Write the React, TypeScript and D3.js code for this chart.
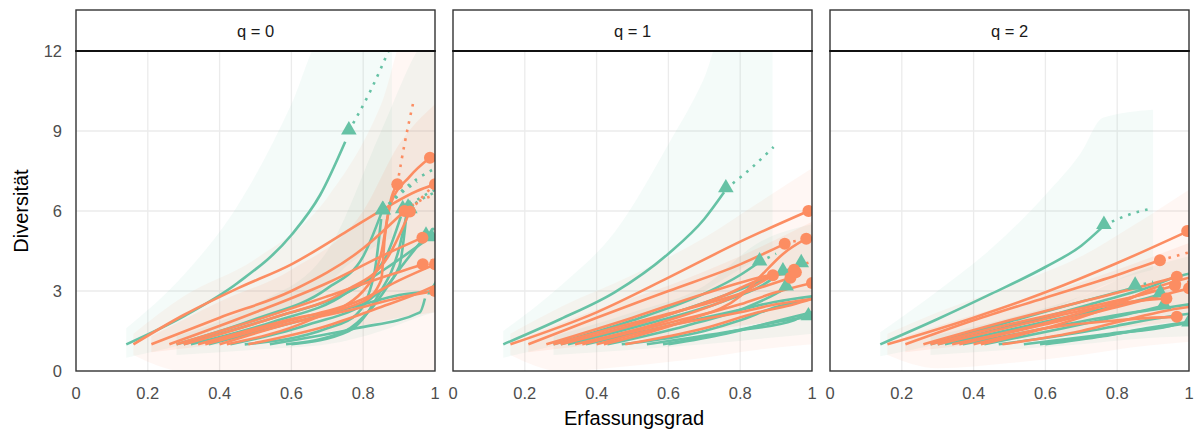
import React from "react";
import * as d3 from "d3";

type P = [number, number];
type B = [number, number, number];

const facetLabels = ["q = 0", "q = 1", "q = 2"];
const xTickValues = [0, 0.2, 0.4, 0.6, 0.8, 1];
const xTickLabels = ["0", "0.2", "0.4", "0.6", "0.8", "1"];
const yTickValues = [0, 3, 6, 9, 12];
const yTickLabels = ["0", "3", "6", "9", "12"];
const xTitle = "Erfassungsgrad";
const yTitle = "Diversität";

// G = green (triangles), O = orange (circles)
const curveGroups = ["G", "G", "G", "G", "G", "G", "G", "G", "G", "G", "O", "O", "O", "O", "O", "O", "O", "O", "O", "O"];

const rareQ0: P[][] = [
  [[0.14, 1], [0.3, 2.05], [0.45, 3.3], [0.6, 5.1], [0.68, 6.6], [0.75, 8.6]],
  [[0.28, 1], [0.5, 1.95], [0.7, 3.1], [0.8, 4.3], [0.85, 5.9]],
  [[0.32, 1], [0.55, 1.85], [0.75, 2.9], [0.86, 4.2], [0.905, 5.8]],
  [[0.43, 1], [0.65, 1.75], [0.82, 2.7], [0.9, 3.9], [0.92, 5.8]],
  [[0.54, 1], [0.78, 1.6], [0.958, 2.2], [0.972, 2.72]],
  [[0.585, 1], [0.75, 1.5], [0.82, 2.3], [0.9, 3.8], [0.97, 5.0]],
  [[0.3, 1], [0.55, 2.0], [0.75, 2.9], [0.88, 4.0], [0.985, 5.0]],
  [[0.37, 1], [0.6, 1.8], [0.8, 2.5], [0.9, 2.85], [1.0, 3.0]],
  [[0.47, 1], [0.7, 1.6], [0.78, 2.1], [0.83, 3.6], [0.85, 5.7]],
  [[0.6, 1], [0.76, 1.5], [0.84, 2.8], [0.9, 4.6], [0.92, 5.8]],
  [[0.16, 1], [0.3, 2.1], [0.45, 3.1], [0.6, 4.0], [0.75, 5.2], [0.86, 6.1], [0.95, 6.75], [1.0, 7.0]],
  [[0.21, 1], [0.4, 2.0], [0.6, 3.0], [0.8, 4.6], [0.915, 6.0]],
  [[0.26, 1], [0.5, 2.2], [0.7, 3.3], [0.85, 4.3], [0.965, 5.0]],
  [[0.28, 1], [0.5, 1.9], [0.7, 2.8], [0.85, 3.5], [0.966, 4.0]],
  [[0.3, 1], [0.55, 2.0], [0.75, 3.0], [0.87, 4.3], [0.93, 5.98]],
  [[0.34, 1], [0.6, 1.95], [0.8, 2.6], [0.85, 3.4], [0.86, 5.0], [0.875, 6.3], [0.895, 7.0]],
  [[0.36, 1], [0.6, 1.9], [0.8, 2.7], [0.9, 3.4], [1.0, 4.0]],
  [[0.4, 1], [0.6, 1.8], [0.8, 2.4], [0.9, 2.75], [1.0, 3.0]],
  [[0.42, 1], [0.65, 1.9], [0.8, 3.0], [0.85, 4.4], [0.875, 6.2], [0.93, 7.3], [0.986, 8.0]],
  [[0.48, 1], [0.7, 1.7], [0.85, 2.4], [0.95, 2.9], [1.0, 3.2]],
];
const obsQ0: (P | null)[] = [
  [0.76, 9.0], [0.854, 6.02], [0.91, 6.05], [0.925, 6.1], null, [0.975, 5.05], [0.99, 5.0], [1.0, 3.0], [0.856, 6.0], [0.93, 6.05],
  [1.0, 7.0], [0.915, 6.0], [0.965, 5.0], [0.966, 4.0], [0.93, 5.98], [0.895, 7.0], [1.0, 4.0], [1.0, 3.0], [0.986, 8.0], null,
];
const extraQ0: P[][] = [
  [[0.76, 9.0], [0.82, 10.5], [0.88, 12.3]],
  [[0.854, 6.02], [0.92, 6.9], [1.0, 7.6]],
  [[0.91, 6.05], [0.96, 6.5], [1.0, 6.8]],
  [[0.925, 6.1], [0.97, 6.5], [1.0, 6.7]],
  [],
  [[0.975, 5.05], [1.0, 5.4]],
  [],
  [],
  [[0.856, 6.0], [0.9, 6.6], [0.95, 7.1]],
  [],
  [],
  [[0.915, 6.0], [0.96, 6.4], [1.0, 6.6]],
  [[0.965, 5.0], [1.0, 5.3]],
  [[0.966, 4.0], [1.0, 4.2]],
  [[0.93, 5.98], [0.97, 6.6], [1.0, 7.0]],
  [[0.895, 7.0], [0.915, 8.5], [0.94, 10.1]],
  [],
  [],
  [],
  [],
];

const rareQ1: P[][] = [
  [[0.14, 1], [0.3, 1.95], [0.45, 2.95], [0.6, 4.4], [0.7, 5.7], [0.755, 6.7]],
  [[0.28, 1], [0.5, 1.9], [0.7, 2.9], [0.8, 3.6], [0.85, 4.05]],
  [[0.32, 1], [0.55, 1.8], [0.75, 2.6], [0.86, 3.2], [0.915, 3.7]],
  [[0.43, 1], [0.65, 1.7], [0.82, 2.4], [0.9, 2.9], [0.925, 3.1]],
  [[0.54, 1], [0.78, 1.5], [0.95, 1.9], [0.975, 2.1]],
  [[0.585, 1], [0.75, 1.4], [0.85, 1.7], [0.95, 1.95], [0.99, 2.03]],
  [[0.3, 1], [0.55, 1.9], [0.75, 2.8], [0.88, 3.5], [0.97, 4.0]],
  [[0.37, 1], [0.6, 1.7], [0.8, 2.3], [0.9, 2.6], [1.0, 2.8]],
  [[0.47, 1], [0.7, 1.5], [0.8, 1.9], [0.9, 2.4], [1.0, 2.7]],
  [[0.6, 1], [0.76, 1.4], [0.88, 1.8], [1.0, 2.2]],
  [[0.16, 1], [0.4, 2.2], [0.6, 3.5], [0.8, 4.85], [0.99, 6.0]],
  [[0.21, 1], [0.4, 2.0], [0.6, 3.0], [0.8, 4.0], [0.924, 4.77]],
  [[0.26, 1], [0.5, 2.0], [0.7, 2.9], [0.85, 3.5], [0.95, 3.8]],
  [[0.28, 1], [0.5, 1.8], [0.7, 2.5], [0.85, 3.1], [0.94, 3.5]],
  [[0.3, 1], [0.55, 1.9], [0.75, 2.8], [0.87, 3.5], [0.955, 3.7]],
  [[0.34, 1], [0.6, 1.9], [0.8, 2.9], [0.891, 3.59]],
  [[0.36, 1], [0.6, 1.8], [0.8, 2.5], [0.9, 2.95], [1.0, 3.3]],
  [[0.4, 1], [0.6, 1.7], [0.8, 2.2], [0.9, 2.5], [1.0, 2.7]],
  [[0.42, 1], [0.65, 1.9], [0.8, 2.8], [0.86, 3.6], [0.92, 4.4], [0.984, 4.96]],
  [[0.48, 1], [0.7, 1.6], [0.85, 2.2], [0.95, 2.5], [1.0, 2.7]],
];
const obsQ1: (P | null)[] = [
  [0.76, 6.83], [0.854, 4.09], [0.919, 3.71], [0.928, 3.15], null, [0.99, 2.03], [0.97, 4.02], null, null, null,
  [0.99, 6.0], [0.924, 4.77], [0.95, 3.8], [0.94, 3.5], [0.955, 3.7], [0.891, 3.59], [1.0, 3.3], null, [0.984, 4.96], null,
];
const extraQ1: P[][] = [
  [[0.76, 6.83], [0.83, 7.6], [0.893, 8.4]],
  [[0.854, 4.09], [0.9, 4.4]],
  [[0.919, 3.71], [0.96, 3.85]],
  [],
  [],
  [],
  [],
  [],
  [],
  [],
  [],
  [[0.924, 4.77], [0.955, 4.88], [0.984, 4.96]],
  [],
  [],
  [],
  [[0.891, 3.59], [0.95, 3.9], [1.0, 4.1]],
  [],
  [],
  [],
  [],
];

const rareQ2: P[][] = [
  [[0.14, 1], [0.3, 1.95], [0.45, 2.9], [0.6, 3.9], [0.7, 4.7], [0.755, 5.35]],
  [[0.28, 1], [0.5, 1.85], [0.7, 2.6], [0.8, 2.95], [0.85, 3.15]],
  [[0.32, 1], [0.55, 1.7], [0.75, 2.3], [0.86, 2.65], [0.92, 2.88]],
  [[0.43, 1], [0.65, 1.6], [0.82, 2.1], [0.9, 2.35], [0.93, 2.45]],
  [[0.54, 1], [0.78, 1.4], [0.95, 1.7], [0.975, 1.8]],
  [[0.585, 1], [0.75, 1.3], [0.85, 1.5], [0.95, 1.7], [1.0, 1.8]],
  [[0.3, 1], [0.55, 1.85], [0.75, 2.6], [0.88, 3.1], [0.97, 3.55], [1.0, 3.65]],
  [[0.37, 1], [0.6, 1.6], [0.8, 2.1], [0.9, 2.3], [1.0, 2.5]],
  [[0.47, 1], [0.7, 1.45], [0.8, 1.7], [0.9, 1.95], [1.0, 2.15]],
  [[0.6, 1], [0.76, 1.3], [0.88, 1.6], [1.0, 1.85]],
  [[0.16, 1], [0.4, 2.0], [0.6, 2.95], [0.8, 4.05], [0.99, 5.2]],
  [[0.21, 1], [0.4, 1.9], [0.6, 2.75], [0.8, 3.6], [0.919, 4.15]],
  [[0.26, 1], [0.5, 1.9], [0.7, 2.6], [0.85, 3.1], [0.966, 3.53]],
  [[0.28, 1], [0.5, 1.75], [0.7, 2.35], [0.85, 2.8], [0.961, 3.21]],
  [[0.3, 1], [0.55, 1.8], [0.75, 2.4], [0.87, 2.65], [0.937, 2.72]],
  [[0.34, 1], [0.6, 1.8], [0.8, 2.6], [0.9, 3.0]],
  [[0.36, 1], [0.6, 1.75], [0.8, 2.4], [0.9, 2.75], [1.0, 3.1]],
  [[0.4, 1], [0.6, 1.6], [0.8, 1.9], [0.9, 2.0], [0.966, 2.03]],
  [[0.42, 1], [0.65, 1.8], [0.8, 2.5], [0.9, 3.1], [1.0, 3.5]],
  [[0.48, 1], [0.7, 1.5], [0.85, 2.0], [0.95, 2.3], [1.0, 2.4]],
];
const obsQ2: (P | null)[] = [
  [0.763, 5.46], [0.85, 3.18], [0.92, 2.9], [0.93, 2.45], null, [1.0, 1.8], null, null, null, null,
  [0.995, 5.25], [0.919, 4.15], [0.966, 3.53], [0.961, 3.21], [0.937, 2.72], null, [1.0, 3.1], [0.966, 2.03], null, null,
];
const extraQ2: P[][] = [
  [[0.763, 5.46], [0.83, 5.85], [0.897, 6.1]],
  [[0.85, 3.18], [0.9, 3.35]],
  [],
  [],
  [],
  [],
  [],
  [],
  [],
  [],
  [],
  [[0.919, 4.15], [0.96, 4.3], [1.0, 4.45]],
  [],
  [],
  [],
  [[0.9, 3.0], [0.95, 3.2], [1.0, 3.35]],
  [],
  [],
  [],
  [],
];

// confidence bands: [coverage, lower, upper]
const bandTopGreenQ0: B[] = [[0.14, 0.5, 1.6], [0.3, 1.0, 3.6], [0.45, 1.6, 6.2], [0.6, 2.4, 10], [0.68, 3, 12.5], [0.76, 4, 13], [0.88, 5, 13]];
const bandGreenQ0: B[] = [[0.28, 0.6, 1.3], [0.5, 0.8, 2.5], [0.7, 1, 4.5], [0.85, 1.5, 9], [0.95, 2, 12], [1.0, 2.2, 13]];
const bandOrangeQ0: B[] = [[0.16, 0.6, 1.4], [0.3, 0, 2.8], [0.5, 0, 4.2], [0.7, 0, 6.5], [0.85, 0, 10], [0.93, 0, 13], [1.0, 0, 13]];
const bandOrangeInnerQ0: B[] = [[0.21, 0.7, 1.3], [0.4, 1.0, 2.6], [0.6, 1.3, 3.8], [0.8, 1.7, 6.0], [0.9, 2, 8.5], [1.0, 2.2, 10]];

const bandTopGreenQ1: B[] = [[0.14, 0.5, 1.5], [0.3, 1.0, 3.2], [0.45, 1.5, 5.2], [0.6, 2.2, 8.5], [0.7, 3, 11], [0.76, 3.5, 13], [0.89, 4.5, 13]];
const bandGreenQ1: B[] = [[0.28, 0.6, 1.3], [0.5, 0.8, 2.2], [0.7, 1, 3.2], [0.85, 1.2, 4.8], [1.0, 1.4, 5.5]];
const bandOrangeQ1: B[] = [[0.16, 0.6, 1.4], [0.3, 0, 2.4], [0.5, 0.2, 3.6], [0.7, 0.5, 5], [0.85, 0.8, 6.3], [1.0, 1, 7.6]];
const bandOrangeInnerQ1: B[] = [[0.21, 0.7, 1.3], [0.4, 1.0, 2.3], [0.6, 1.3, 3.2], [0.8, 1.7, 4.3], [1.0, 2.0, 5.6]];

const bandTopGreenQ2: B[] = [[0.14, 0.55, 1.45], [0.3, 1.0, 3.0], [0.45, 1.5, 4.6], [0.6, 2.2, 6.6], [0.7, 2.8, 8.2], [0.76, 3.2, 9.5], [0.9, 3.8, 9.8]];
const bandGreenQ2: B[] = [[0.28, 0.6, 1.3], [0.5, 0.8, 2.0], [0.7, 1, 2.8], [0.85, 1.2, 3.7], [1.0, 1.3, 4.3]];
const bandOrangeQ2: B[] = [[0.16, 0.6, 1.4], [0.3, 0.1, 2.2], [0.5, 0.3, 3.2], [0.7, 0.6, 4.3], [0.85, 0.9, 5.5], [1.0, 1.1, 6.8]];
const bandOrangeInnerQ2: B[] = [[0.21, 0.7, 1.3], [0.4, 1.0, 2.1], [0.6, 1.3, 2.9], [0.8, 1.6, 3.8], [1.0, 1.9, 4.8]];

const rareByQ = [rareQ0, rareQ1, rareQ2];
const obsByQ = [obsQ0, obsQ1, obsQ2];
const extraByQ = [extraQ0, extraQ1, extraQ2];
const bandsByQ = [
  [{ g: "G", d: bandTopGreenQ0, o: 0.07 }, { g: "G", d: bandGreenQ0, o: 0.08 }, { g: "O", d: bandOrangeQ0, o: 0.07 }, { g: "O", d: bandOrangeInnerQ0, o: 0.1 }],
  [{ g: "G", d: bandTopGreenQ1, o: 0.07 }, { g: "G", d: bandGreenQ1, o: 0.08 }, { g: "O", d: bandOrangeQ1, o: 0.07 }, { g: "O", d: bandOrangeInnerQ1, o: 0.1 }],
  [{ g: "G", d: bandTopGreenQ2, o: 0.07 }, { g: "G", d: bandGreenQ2, o: 0.08 }, { g: "O", d: bandOrangeQ2, o: 0.07 }, { g: "O", d: bandOrangeInnerQ2, o: 0.1 }],
];

const COLORS: Record<string, string> = { G: "#66C2A5", O: "#FC8D62" };
const FONT = "'Liberation Sans', Arial, Helvetica, sans-serif";

const panelLeft = [76, 453, 830];
const panelW = 359;
const stripTop = 10;
const plotTop = 51;
const plotBottom = 371;

function Panel({ qi }: { qi: number }) {
  const x0 = panelLeft[qi];
  const x = d3.scaleLinear().domain([0, 1]).range([x0, x0 + panelW]);
  const y = d3.scaleLinear().domain([0, 12]).range([plotBottom, plotTop]);
  const line = d3.line<P>().x((d) => x(d[0])).y((d) => y(d[1])).curve(d3.curveMonotoneX);
  const area = d3
    .area<B>()
    .x((d) => x(d[0]))
    .y0((d) => y(d[1]))
    .y1((d) => y(d[2]))
    .curve(d3.curveMonotoneX);
  const tri = d3.symbol().type(d3.symbolTriangle).size(105)();
  const clipId = `clip-${qi}`;
  const order = curveGroups.map((g, i) => i);
  return (
    <g>
      <defs>
        <clipPath id={clipId}>
          <rect x={x0} y={plotTop} width={panelW} height={plotBottom - plotTop} />
        </clipPath>
      </defs>
      <rect x={x0} y={plotTop} width={panelW} height={plotBottom - plotTop} fill="#FFFFFF" />
      {xTickValues.slice(1, -1).map((t) => (
        <line key={"vx" + t} x1={x(t)} x2={x(t)} y1={plotTop} y2={plotBottom} stroke="#EBEBEB" strokeWidth={1.3} />
      ))}
      {yTickValues.slice(1, -1).map((t) => (
        <line key={"hy" + t} x1={x0} x2={x0 + panelW} y1={y(t)} y2={y(t)} stroke="#EBEBEB" strokeWidth={1.3} />
      ))}
      <g clipPath={`url(#${clipId})`}>
        {bandsByQ[qi].map((b, i) => (
          <path key={"band" + i} d={area(b.d) || ""} fill={COLORS[b.g]} fillOpacity={b.o} />
        ))}
        {order.map((i) => (
          <path
            key={"r" + i}
            d={line(rareByQ[qi][i]) || ""}
            fill="none"
            stroke={COLORS[curveGroups[i]]}
            strokeWidth={2.6}
            strokeLinecap="butt"
          />
        ))}
        {order.map((i) =>
          extraByQ[qi][i].length > 1 ? (
            <path
              key={"e" + i}
              d={line(extraByQ[qi][i]) || ""}
              fill="none"
              stroke={COLORS[curveGroups[i]]}
              strokeWidth={2.6}
              strokeDasharray="2.6 6.2"
            />
          ) : null
        )}
        {order.map((i) => {
          const o = obsByQ[qi][i];
          if (!o) return null;
          const c = COLORS[curveGroups[i]];
          return curveGroups[i] === "G" ? (
            <path key={"m" + i} d={tri || ""} transform={`translate(${x(o[0])},${y(o[1]) - 1})`} fill={c} />
          ) : (
            <circle key={"m" + i} cx={x(o[0])} cy={y(o[1])} r={6} fill={c} />
          );
        })}
      </g>
      <rect x={x0} y={plotTop} width={panelW} height={plotBottom - plotTop} fill="none" stroke="#333333" strokeWidth={1.4} />
      <rect x={x0} y={stripTop} width={panelW} height={plotTop - stripTop} fill="#FFFFFF" stroke="#333333" strokeWidth={1.4} />
      <line x1={x0 - 0.7} x2={x0 + panelW + 0.7} y1={plotTop} y2={plotTop} stroke="#111111" strokeWidth={2.2} />
      <text x={x0 + panelW / 2} y={37} textAnchor="middle" fontFamily={FONT} fontSize={16.5} fill="#1A1A1A">
        {facetLabels[qi]}
      </text>
      {xTickValues.map((t, i) => (
        <text key={"xl" + t} x={x(t)} y={399} textAnchor="middle" fontFamily={FONT} fontSize={16.5} fill="#4D4D4D">
          {xTickLabels[i]}
        </text>
      ))}
      {qi === 0
        ? yTickValues.map((t, i) => (
            <text key={"yl" + t} x={62} y={y(t)} dy="0.35em" textAnchor="end" fontFamily={FONT} fontSize={16.5} fill="#4D4D4D">
              {yTickLabels[i]}
            </text>
          ))
        : null}
    </g>
  );
}

export default function App() {
  const W = 1196;
  const H = 430;
  return (
    <svg width={W} height={H} viewBox={`0 0 ${W} ${H}`} style={{ display: "block", position: "absolute", left: 0, top: 0 }}>
      <rect x={0} y={0} width={W} height={H} fill="#FFFFFF" />
      {[0, 1, 2].map((qi) => (
        <Panel key={qi} qi={qi} />
      ))}
      <text x={634} y={425} textAnchor="middle" fontFamily={FONT} fontSize={20} fill="#000000">
        {xTitle}
      </text>
      <text transform={`translate(28,211) rotate(-90)`} textAnchor="middle" fontFamily={FONT} fontSize={20} fill="#000000">
        {yTitle}
      </text>
    </svg>
  );
}
